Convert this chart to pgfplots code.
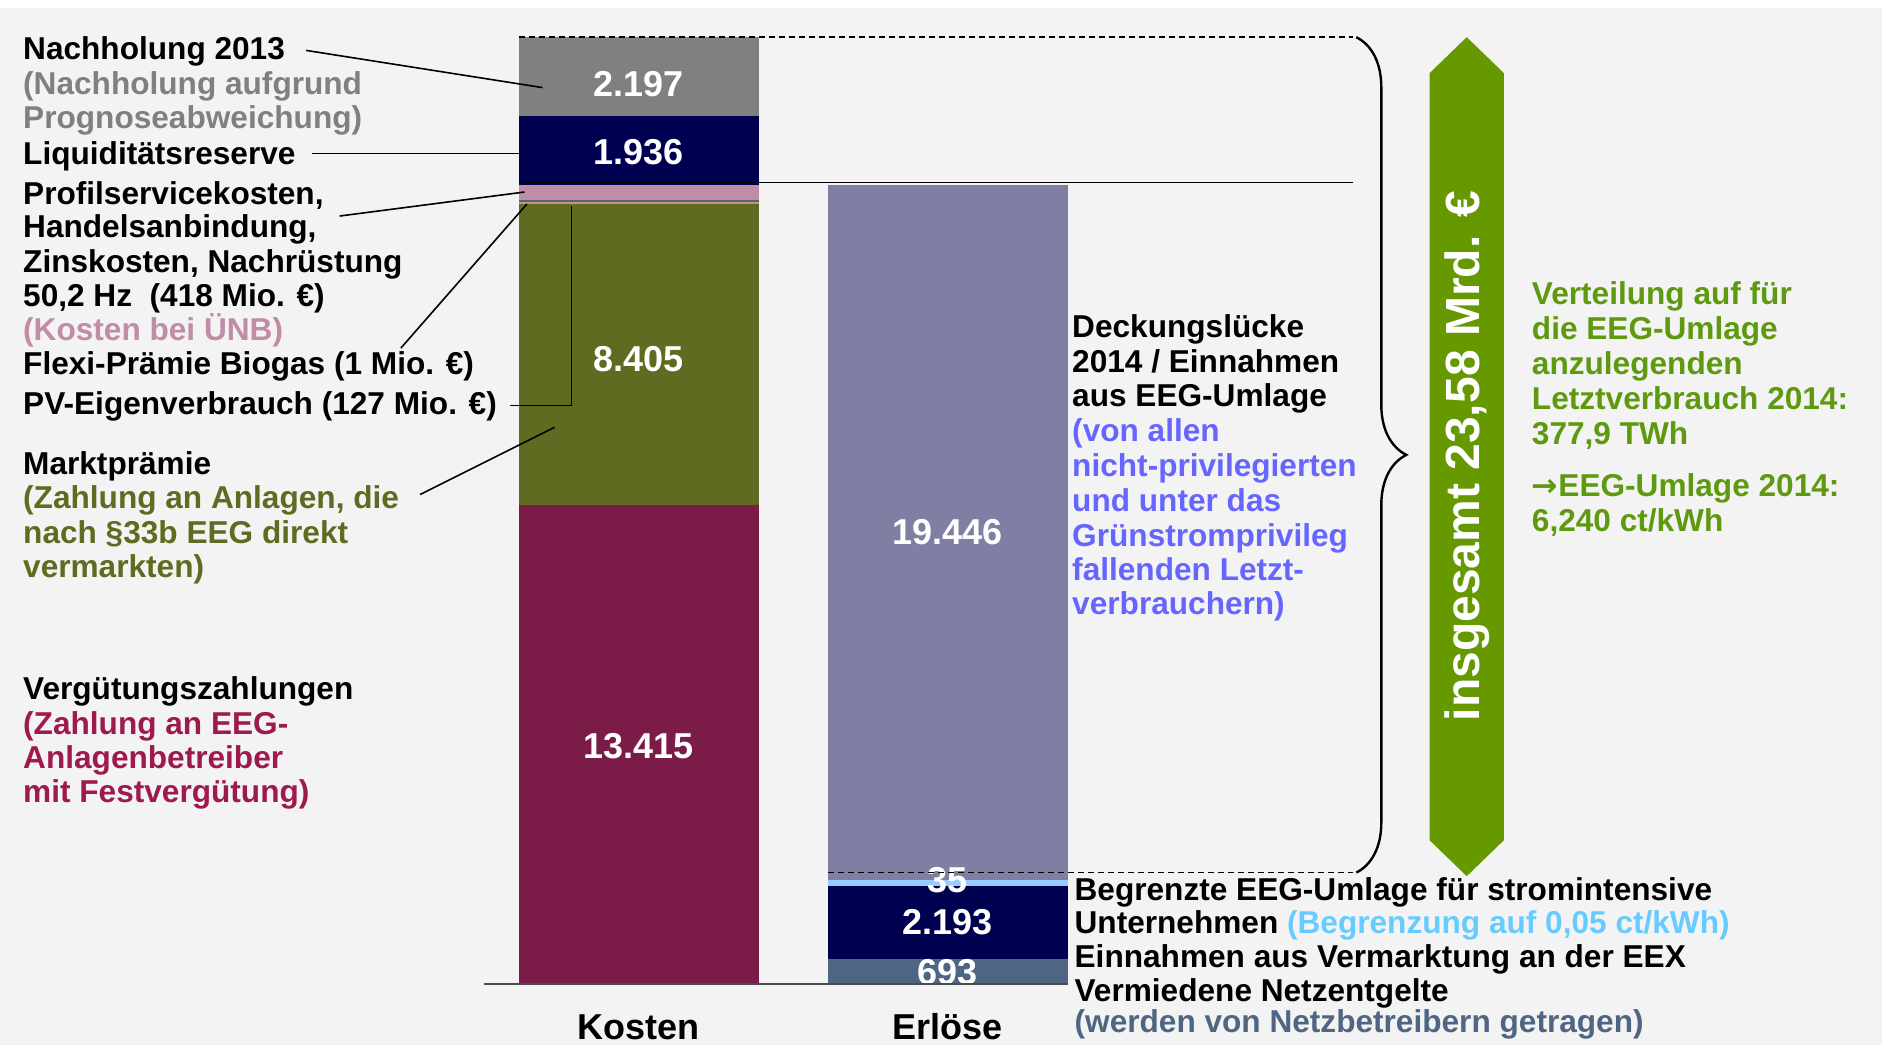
\documentclass[border=0pt]{standalone}
\usepackage{fontspec}
\setmainfont{Liberation Sans}
\newfontfamily\djv{DejaVu Sans}
\usepackage{pgfplots}
\pgfplotsset{compat=1.18}
\usetikzlibrary{decorations.pathreplacing}

\definecolor{bg}{HTML}{F3F3F3}
\definecolor{cgrey}{HTML}{808080}
\definecolor{cnavy}{HTML}{000050}
\definecolor{cpink}{HTML}{C08CA6}
\definecolor{cslate}{HTML}{4F6584}
\definecolor{ctan}{HTML}{C49A6C}
\definecolor{colive}{HTML}{606B21}
\definecolor{cmaroon}{HTML}{7B1B48}
\definecolor{cpurple}{HTML}{7F7FA3}
\definecolor{clblue}{HTML}{99CCFF}
\definecolor{tred}{HTML}{9E1A4E}
\definecolor{tviolet}{HTML}{6666FF}
\definecolor{tlblue}{HTML}{66CCFF}
\definecolor{tgreen}{HTML}{5F9910}
\definecolor{carrow}{HTML}{669900}

\newcommand{\lf}{\fontsize{15.8}{17.2}\selectfont\bfseries}
\newcommand{\vf}{\fontsize{18}{20}\selectfont\bfseries}
% one text line, baseline at (x,y) in screen px of the reference
\newcommand{\lbl}[4][black]{\node[anchor=base west,inner sep=0pt,text=#1,font=\lf] at (#2,#3) {#4};}

\pgfplotsset{panel/.style={
  scale only axis, width=940.8pt, height=522.6pt,
  xmin=-2.066, xmax=4.0233, ymin=-1713, ymax=27540,
  ybar stacked, bar width=0.7767, reverse stacked plots=false,
  axis line style={draw=none}, tick style={draw=none},
  ytick=\empty, clip=false,
}}

\begin{document}
\begin{tikzpicture}
\fill[bg] (0,0) rectangle (940.8pt,518.4pt);
\fill[white] (0,518.4pt) rectangle (940.8pt,522.6pt);

% Kosten
\begin{axis}[panel, xtick={0,1}, xticklabels={Kosten,Erlöse},
  xticklabel style={font=\vf, anchor=base, yshift=3pt}]
\addplot[fill=cmaroon, draw=none] coordinates {(0,13415)};
\addplot[fill=colive, draw=none] coordinates {(0,8405)};
\addplot[fill=ctan, draw=none] coordinates {(0,127)};
\addplot[fill=cslate, draw=cslate, line width=2.4pt, bar width=0.7612] coordinates {(0,1)};
\addplot[fill=cpink, draw=none] coordinates {(0,418)};
\addplot[fill=cnavy, draw=none] coordinates {(0,1936)};
\addplot[fill=cgrey, draw=none] coordinates {(0,2197)};
\node[font=\vf,text=white] at (axis cs:0,6650) {13.415};
\node[font=\vf,text=white] at (axis cs:0,17500) {8.405};
\node[font=\vf,text=white] at (axis cs:0,23275) {1.936};
\node[font=\vf,text=white] at (axis cs:0,25190) {2.197};
\end{axis}

% Erloese
\begin{axis}[panel, xtick=\empty]
\addplot[fill=cslate, draw=none] coordinates {(1,693)};
\addplot[fill=cnavy, draw=none] coordinates {(1,2193)};
\addplot[fill=clblue, draw=clblue, line width=5pt, bar width=0.7443] coordinates {(1,35)};
\addplot[fill=cpurple, draw=none] coordinates {(1,19446)};
\node[font=\vf,text=white] at (axis cs:1,336) {693};
\node[font=\vf,text=white] at (axis cs:1,1746) {2.193};
\node[font=\vf,text=white] at (axis cs:1,2922) {35};
\node[font=\vf,text=white] at (axis cs:1,12644) {19.446};
\end{axis}

\begin{scope}[x=0.6pt, y=-0.6pt, shift={(0pt,522.6pt)}]
\draw[line width=0.8pt, dash pattern=on 3pt off 2pt] (432,31) -- (1127,31);
\draw[line width=0.8pt, dash pattern=on 3pt off 2pt] (690,727) -- (1127,727);
\draw[line width=0.8pt] (432,152) -- (1127,152);
\draw[line width=1pt, gray!60!black] (403,820) -- (890,820);
% leader lines
\draw[line width=0.8pt] (255,42) -- (452,73);
\draw[line width=0.8pt] (260,128) -- (432,128);
\draw[line width=0.8pt] (283,180) -- (437,160);
\draw[line width=0.8pt] (334,290) -- (439,170);
\draw[line width=0.8pt] (425,338) -- (476,338) -- (476,172);
\draw[line width=0.8pt] (350,412) -- (462,356);
% brace and total arrow
\draw[line width=1.2pt, decorate, decoration={brace, amplitude=25pt}] (1130,31) -- (1130,727);
\fill[carrow] (1222,31) -- (1253,61) -- (1253,700) -- (1222,730) -- (1191,700) -- (1191,61) -- cycle;
\node[rotate=90, text=white, font=\fontsize{24}{26}\selectfont\bfseries] at (1222,380) {insgesamt 23,58 Mrd. €};

% left labels
\lbl{19}{50}{Nachholung 2013}
\lbl[cgrey]{19}{79}{(Nachholung aufgrund}
\lbl[cgrey]{19}{107}{Prognoseabweichung)}
\lbl{19}{137}{Liquiditätsreserve}
\lbl{19}{170}{Profilservicekosten,}
\lbl{19}{198}{Handelsanbindung,}
\lbl{19}{227}{Zinskosten, Nachrüstung}
\lbl{19}{255}{50,2 Hz\ \ (418 Mio. €)}
\lbl[cpink]{19}{284}{(Kosten bei ÜNB)}
\lbl{19}{312}{Flexi-Prämie Biogas (1 Mio. €)}
\lbl{19}{345}{PV-Eigenverbrauch (127 Mio. €)}
\lbl{19}{395}{Marktprämie}
\lbl[colive]{19}{424}{(Zahlung an Anlagen, die}
\lbl[colive]{19}{453}{nach §33b EEG direkt}
\lbl[colive]{19}{481}{vermarkten)}
\lbl{19}{583}{Vergütungszahlungen}
\lbl[tred]{19}{612}{(Zahlung an EEG-}
\lbl[tred]{19}{640}{Anlagenbetreiber}
\lbl[tred]{19}{669}{mit Festvergütung)}

% middle labels
\lbl{893}{281}{Deckungslücke}
\lbl{893}{310}{2014 / Einnahmen}
\lbl{893}{339}{aus EEG-Umlage}
\lbl[tviolet]{893}{368}{(von allen}
\lbl[tviolet]{893}{397}{nicht-privilegierten}
\lbl[tviolet]{893}{426}{und unter das}
\lbl[tviolet]{893}{455}{Grünstromprivileg}
\lbl[tviolet]{893}{484}{fallenden Letzt-}
\lbl[tviolet]{893}{512}{verbrauchern)}

% right labels
\lbl[tgreen]{1276}{254}{Verteilung auf für}
\lbl[tgreen]{1276}{283}{die EEG-Umlage}
\lbl[tgreen]{1276}{312}{anzulegenden}
\lbl[tgreen]{1276}{341}{Letztverbrauch 2014:}
\lbl[tgreen]{1276}{370}{377,9 TWh}
\lbl[tgreen]{1276}{414}{{\djv\bfseries →}EEG-Umlage 2014:}
\lbl[tgreen]{1276}{443}{6,240 ct/kWh}

% bottom labels
\lbl{895}{750}{Begrenzte EEG-Umlage für stromintensive}
\lbl{895}{778}{Unternehmen \textcolor{tlblue}{(Begrenzung auf 0,05 ct/kWh)}}
\lbl{895}{806}{Einnahmen aus Vermarktung an der EEX}
\lbl{895}{834}{Vermiedene Netzentgelte}
\lbl[cslate]{895}{860}{(werden von Netzbetreibern getragen)}
\end{scope}
\end{tikzpicture}
\end{document}
